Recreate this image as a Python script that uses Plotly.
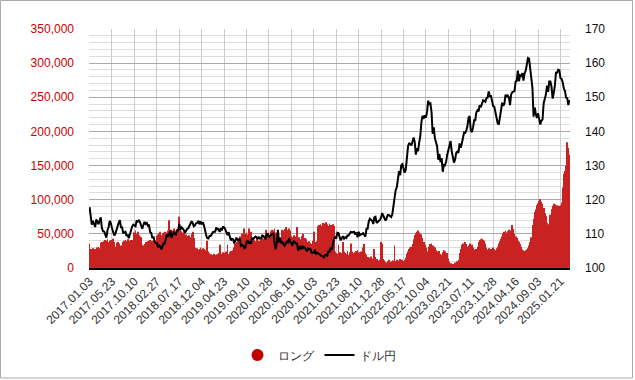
import pandas as pd
import plotly.graph_objects as go

# ---- data -------------------------------------------------------------
dates = pd.date_range("2017-01-03", periods=429, freq="7D")
tick_dates = dates[::20]

long_2017 = [36000, 28000, 27000, 29000, 28000, 26000, 28000, 30000, 31000, 29000,
             37000, 38000, 36000, 39000, 41000, 40000, 42000, 38000, 40000, 41000,
             40000, 43000, 38000, 31000, 37000, 38000, 36000, 33000, 31000, 33000,
             38000, 40000, 41000, 39000, 42000, 40000, 38000, 41000, 40000, 41000,
             52000, 55000, 50000, 53000, 48000, 46000, 45000, 34000, 33000, 35000,
             38000, 37000]
long_2018 = [39000, 40000, 41000, 39000, 40000, 41000, 38000, 40000,
             47000, 49000, 50000, 53000, 48000, 51000, 52000, 53000, 51000, 52000,
             55000, 70000, 54000, 56000, 55000, 58000, 53000, 55000, 57000, 56000,
             75000, 56000, 54000, 52000, 50000, 48000, 49000, 47000, 46000, 48000,
             45000, 50000, 53000, 44000, 30000, 28000, 29000, 27000, 28000, 30000,
             27000, 29000, 28000, 26000]
long_2019 = [25000, 40000, 24000, 22000, 20000, 18000, 19000, 21000, 17000, 19000,
             20000, 22000, 34000, 21000, 20000, 23000,
             22000, 21000, 24000, 34000, 20000, 23000, 25000, 22000, 26000, 30000,
             36000, 38000, 40000, 43000, 46000, 45000, 50000, 48000, 58000, 50000,
             52000, 49000, 58000, 51000, 53000, 40000, 38000, 41000, 39000, 44000,
             37000, 40000, 38000, 42000, 45000, 43000, 46000]
long_2020 = [56000, 44000, 47000,
             45000, 48000, 54000, 56000, 55000, 58000, 52000, 44000, 42000, 40000,
             45000, 43000, 56000, 55000, 57000, 60000, 54000, 56000, 58000, 55000,
             47000, 45000, 48000, 44000, 46000, 60000, 43000, 45000, 42000, 47000,
             50000, 41000, 44000, 42000, 38000, 36000, 39000, 37000, 35000, 40000,
             53000, 38000, 37000, 39000, 61000, 63000, 64000, 62000, 66000]
long_2021 = [65000, 63000, 67000, 64000, 62000, 65000, 63000, 60000, 64000, 62000,
             24000,
             22000, 21000, 34000, 23000, 22000, 20000, 38000, 24000, 22000, 21000,
             25000, 19000, 23000, 36000, 24000, 22000, 21000, 23000, 25000, 26000,
             23000, 22000, 24000, 21000, 30000, 35000, 22000, 19000, 16000, 15000,
             13000, 17000, 14000, 12000, 28000, 16000, 13000, 11000, 10000, 12000,
             38000]
long_2022 = [36000, 13000, 11000, 9000, 8000, 10000, 12000, 9000, 8000, 10000,
             11000, 33000, 10000, 12000, 11000, 9000, 13000, 11000, 12000,
             10000, 12000, 15000, 21000, 24000, 28000, 30000, 31000, 35000, 42000,
             48000, 51000, 53000, 55000, 52000, 50000, 49000, 44000, 38000, 34000,
             30000, 24000, 22000, 31000, 35000, 36000, 33000, 31000, 30000, 26000,
             22000, 24000, 25000]
long_2023 = [21000, 19000, 23000, 26000, 24000, 20000, 22000,
             14000, 9000, 7000, 5000, 6000, 4000, 8000, 6000, 10000, 12000,
             22000, 28000, 34000, 36000, 33000, 38000, 35000, 31000, 33000, 36000,
             32000, 34000, 30000, 27000, 25000, 28000, 31000, 38000, 41000, 42000,
             43000, 41000, 40000, 36000, 30000, 27000, 29000, 26000, 28000, 27000,
             30000, 28000, 26000, 29000, 31000]
long_2024 = [36000, 39000, 43000, 46000, 51000, 53000, 55000, 52000, 54000, 56000,
             55000, 53000, 63000, 57000, 50000,
             46000, 44000, 40000, 38000, 35000, 31000, 27000, 26000, 25000, 26000,
             27000, 29000, 33000, 38000, 45000, 63000, 72000, 82000, 86000, 92000,
             95000, 98000, 101000, 97000, 94000, 88000, 80000, 76000, 66000, 58000,
             64000, 78000, 86000, 91000, 94000, 93000, 90000, 92000]
long_2025 = [89000, 91000,
             92000, 96000, 118000, 138000, 142000, 150000, 184000, 176000, 166000]

usdjpy_2017 = [117.8, 115.8, 112.7, 113.8, 112.7, 112.0, 114.2, 113.6, 112.8, 114.0,
               114.8, 111.7, 110.8, 110.7, 110.0, 108.9, 111.1, 112.0, 113.8, 113.1,
               111.7, 110.8, 109.5, 110.0, 111.4, 112.3, 113.3, 114.0, 111.9, 111.9,
               110.3, 110.4, 110.6, 109.4, 109.8, 108.7, 110.2, 111.6, 112.2, 112.7,
               112.4, 112.2, 113.9, 113.6, 113.9, 113.4, 112.4, 111.5, 112.6, 113.5,
               112.9, 113.2]
usdjpy_2018 = [112.4, 112.7, 110.5, 110.3, 108.8, 109.2, 107.8, 107.3, 107.3, 106.1,
               106.6, 106.4, 105.4, 106.6, 107.2, 107.1, 108.8, 109.8, 109.1, 110.3,
               110.9, 108.8, 109.8, 110.4, 110.0, 109.8, 110.9, 111.0, 112.9, 111.2,
               111.9, 111.4, 111.2, 110.2, 111.1, 111.5, 111.6, 112.3, 112.9, 113.7,
               113.1, 112.2, 112.5, 113.1, 113.2, 113.8, 112.8, 113.7, 112.8, 113.4,
               112.5, 110.4]
usdjpy_2019 = [109.6, 108.7, 108.6, 109.4, 109.4, 109.9, 110.5, 110.6, 110.6, 111.9,
               111.3, 111.4, 110.6, 111.4, 111.2, 112.0, 111.9, 111.4, 110.3, 109.6,
               110.5, 109.5, 108.1, 108.5, 108.4, 107.2, 107.9, 108.9, 108.2, 108.2,
               108.6, 106.5, 106.7, 106.6, 105.8, 106.0, 107.5, 108.1, 107.1, 107.8,
               107.1, 108.8, 108.5, 108.9, 109.2, 109.0, 108.6, 109.0, 108.6, 108.7,
               109.5, 109.4, 108.7]
usdjpy_2020 = [108.4, 109.9, 110.0, 109.0, 109.5, 109.8, 109.9, 110.2, 107.2, 105.5,
               107.2, 111.2, 107.5, 108.8, 107.2, 107.8, 106.9, 106.5, 107.2, 107.7,
               107.5, 108.7, 107.8, 107.3, 106.5, 107.9, 107.6, 107.2, 107.2, 105.1,
               105.7, 106.5, 105.4, 106.4, 105.9, 106.0, 105.4, 104.9, 105.7, 105.7,
               105.5, 104.5, 104.6, 104.5, 105.3, 104.2, 104.4, 104.3, 104.1, 103.7,
               103.6, 103.5]
usdjpy_2021 = [103.1, 103.8, 103.9, 103.6, 105.0, 104.6, 106.0, 105.3, 106.9, 108.6,
               109.0, 108.6, 110.3, 110.2, 109.1, 108.1, 108.7, 109.3, 108.6, 109.0,
               108.8, 109.5, 109.5, 110.1, 110.6, 110.5, 110.6, 110.6, 109.8, 110.4,
               109.0, 110.6, 109.6, 109.7, 110.0, 110.2, 109.7, 109.2, 111.5, 111.5,
               113.6, 114.4, 114.1, 113.9, 112.9, 114.8, 115.0, 113.2, 113.5, 113.7,
               114.1, 114.8]
usdjpy_2022 = [116.1, 115.3, 114.6, 113.9, 114.6, 115.5, 115.5, 115.0, 114.9, 115.7,
               118.3, 120.8, 122.8, 123.6, 125.4, 128.4, 127.2, 130.1, 130.4, 129.3,
               127.9, 128.7, 132.6, 135.5, 136.6, 136.1, 135.9, 137.0, 138.2, 136.9,
               133.2, 135.1, 134.2, 136.8, 138.7, 142.8, 144.6, 143.7, 144.7, 144.1,
               145.7, 149.0, 148.0, 148.2, 145.7, 139.3, 141.2, 138.0, 137.0, 135.6,
               131.7, 133.4]
usdjpy_2023 = [131.0, 132.2, 128.2, 130.2, 130.1, 131.1, 133.2, 134.9, 136.2, 137.2,
               134.2, 132.4, 130.9, 131.7, 133.7, 134.1, 133.7, 136.5, 135.2, 136.4,
               138.5, 139.7, 139.6, 140.2, 141.5, 144.0, 144.5, 140.3, 139.8, 141.1,
               143.3, 143.3, 145.6, 146.2, 145.9, 147.7, 147.1, 147.9, 149.1, 149.0,
               148.7, 149.8, 149.9, 151.7, 150.4, 150.4, 148.4, 147.4, 147.2, 145.4,
               143.8, 142.4]
usdjpy_2024 = [142.0, 144.5, 147.2, 148.4, 147.5, 148.1, 150.8, 150.0, 150.5, 150.0,
               147.7, 150.9, 151.5, 151.6, 151.8, 154.6, 154.8, 157.8, 154.7, 156.4,
               156.2, 157.1, 154.9, 157.1, 157.8, 159.6, 161.5, 161.3, 158.3, 155.6,
               152.7, 144.3, 147.0, 145.2, 143.9, 145.3, 143.4, 142.0, 143.2, 143.5,
               148.2, 149.2, 150.8, 153.4, 151.6, 154.6, 154.6, 153.1, 149.6, 151.2,
               153.4, 157.2, 157.2]
usdjpy_2025 = [158.1, 157.9, 155.6, 155.4, 154.4, 152.5, 151.9, 149.9, 149.8, 147.7,
               149.2]

long_values = (long_2017 + long_2018 + long_2019 + long_2020 + long_2021
               + long_2022 + long_2023 + long_2024 + long_2025)
usdjpy = (usdjpy_2017 + usdjpy_2018 + usdjpy_2019 + usdjpy_2020 + usdjpy_2021
          + usdjpy_2022 + usdjpy_2023 + usdjpy_2024 + usdjpy_2025)

n = min(len(dates), len(long_values), len(usdjpy))
dates = dates[:n]
long_values = long_values[:n]
usdjpy = usdjpy[:n]

# ---- layout geometry ----------------------------------------------------
W, H = 635, 380
ML, MR, MT, MB = 89, 65, 29, 112
PW, PH = W - ML - MR, H - MT - MB


def px_x(p):
    return (p - ML) / PW


def px_y(p):
    return (H - MB - p) / PH


FONT = "Liberation Sans, Arial, sans-serif"

fig = go.Figure()
fig.add_trace(go.Bar(
    x=dates, y=long_values, name="ロング", showlegend=False,
    marker=dict(color="#c92222", line=dict(width=0)),
    yaxis="y",
))
fig.add_trace(go.Scatter(
    x=[None], y=[None], mode="markers", name="ロング",
    marker=dict(symbol="circle", size=12, color="#c00000"),
))
fig.add_trace(go.Scatter(
    x=dates, y=usdjpy, mode="lines", name="ドル円",
    line=dict(color="#000000", width=2), yaxis="y2",
))

half_week = pd.Timedelta(days=3.5)
fig.update_layout(
    width=W, height=H,
    margin=dict(l=ML, r=MR, t=MT, b=MB, pad=0, autoexpand=False),
    paper_bgcolor="white", plot_bgcolor="white",
    font=dict(family=FONT, size=12, color="#333333"),
    bargap=0.22,
    xaxis=dict(
        type="date",
        range=[dates[0] - half_week, dates[-1] + half_week],
        tickvals=list(tick_dates),
        tickformat="%Y.%m.%d",
        tickangle=-45,
        showgrid=True, gridcolor="#cccccc", gridwidth=1,
        showline=True, linecolor="#000000", linewidth=1.5,
        ticks="", tickfont=dict(size=12, color="#333333"),
        zeroline=False, automargin=False,
    ),
    yaxis=dict(
        range=[0, 350000], dtick=50000, tickformat=",",
        showgrid=True, gridcolor="#aaaaaa", gridwidth=1,
        minor=dict(dtick=10000, showgrid=True, gridcolor="#dddddd", gridwidth=1),
        tickfont=dict(size=12, color="#cc0000"),
        ticklabelstandoff=14, zeroline=False, ticks="", automargin=False,
    ),
    yaxis2=dict(
        range=[100, 170], dtick=10, overlaying="y", side="right",
        showgrid=False, zeroline=False, ticks="",
        tickfont=dict(size=12, color="#111111"),
        ticklabelstandoff=14, automargin=False,
    ),
    legend=dict(
        orientation="h", x=px_x(319), xanchor="center",
        y=px_y(355), yanchor="middle",
        font=dict(size=12, color="#333333"),
        bgcolor="rgba(0,0,0,0)",
    ),
    shapes=[dict(
        type="rect", xref="paper", yref="paper",
        x0=px_x(0.5), x1=px_x(632.5), y0=px_y(378), y1=px_y(0.5),
        line=dict(color="#aaaaaa", width=1), fillcolor="rgba(0,0,0,0)",
        layer="below",
    )],
)

fig.write_html("out.html",
               config={"displayModeBar": False},
               post_script="document.body.style.margin='0';document.body.style.padding='0';")
